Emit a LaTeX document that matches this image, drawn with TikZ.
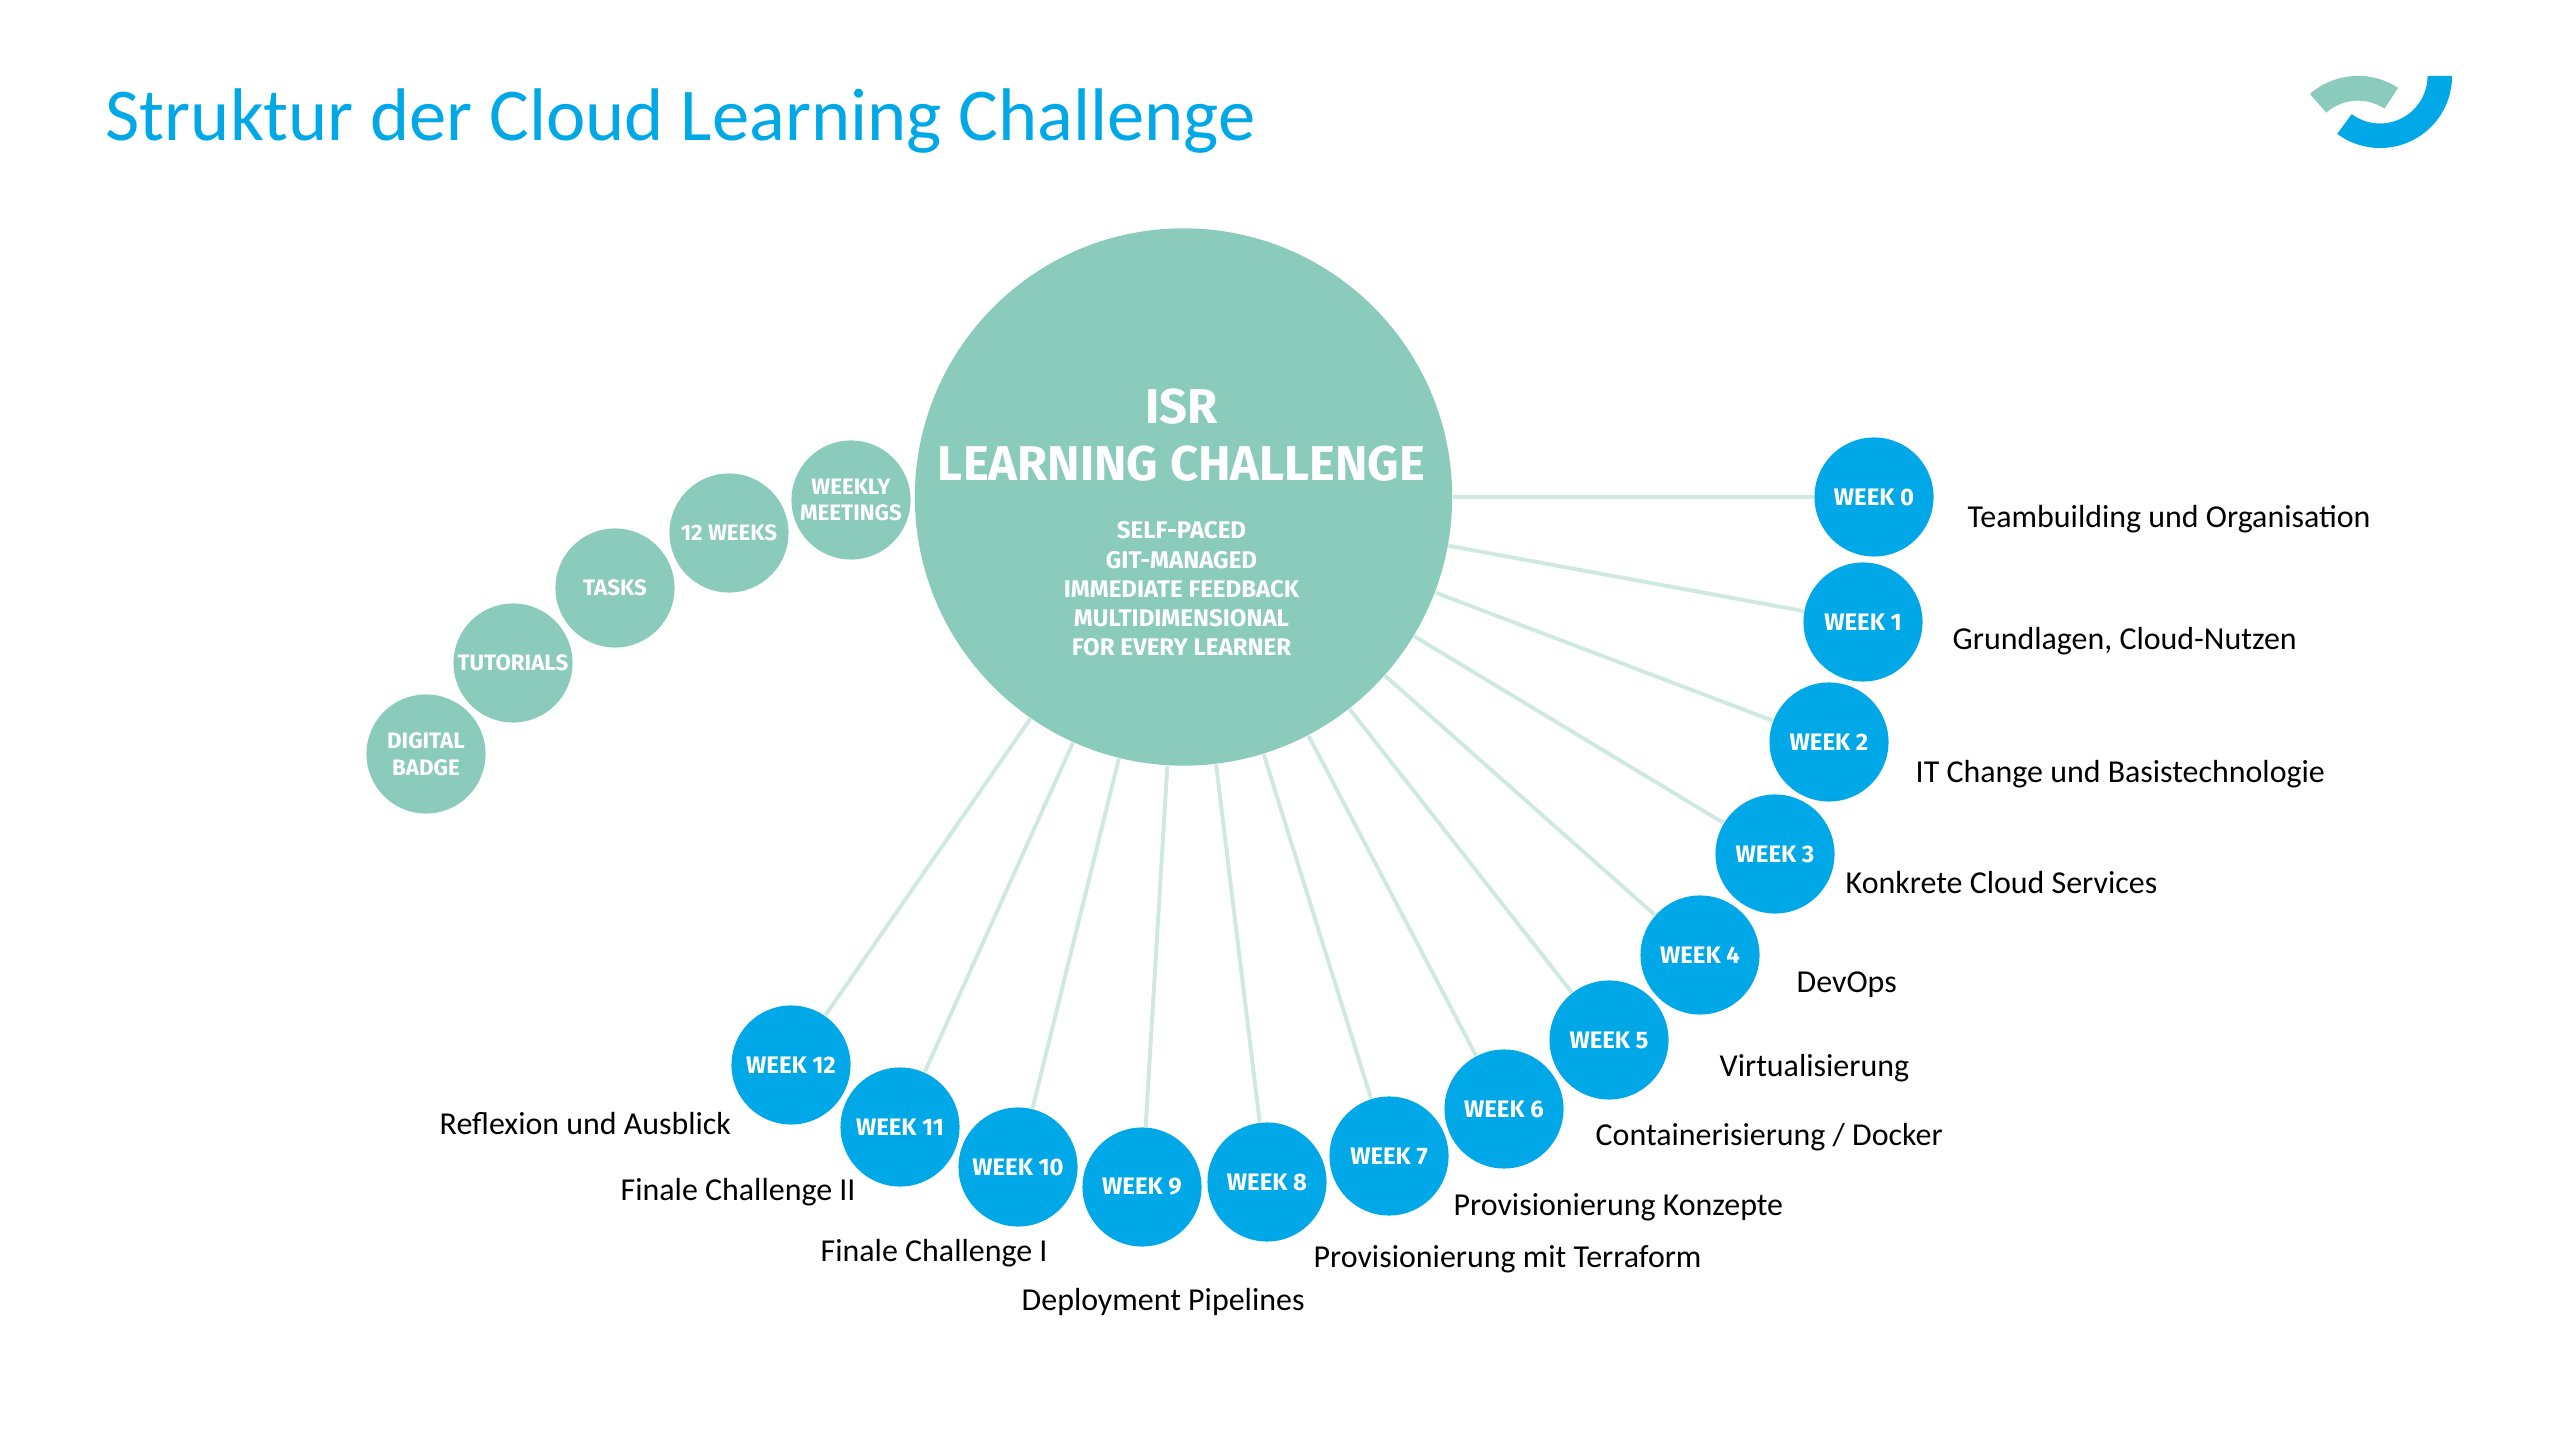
\documentclass[tikz,border=0pt]{standalone}
\usepackage{fontspec}
\setmainfont{Carlito}
\newfontfamily\capsfont{Fira Sans}
\usepackage{tikz}
\definecolor{crBlue}{RGB}{0,168,232}
\definecolor{crTeal}{RGB}{138,203,187}
\definecolor{crLine}{RGB}{207,233,226}

\begin{document}
\begin{tikzpicture}[
    x=0.01cm, y=-0.01cm,
    hub/.style={circle, fill=crTeal, draw=none, minimum size=5.37cm, inner sep=0pt},
    feature/.style={circle, fill=crTeal, minimum size=1.19cm, inner sep=0pt, text=white, align=center, font=\capsfont\bfseries\fontsize{6.35}{7.55}\selectfont},
    week/.style={circle, fill=crBlue, minimum size=1.19cm, inner sep=0pt, text=white, font=\capsfont\bfseries\fontsize{6.8}{7.55}\selectfont},
    topic/.style={font=\fontsize{9.08}{11}\selectfont, text=black, anchor=base west, inner sep=0pt},
    spoke/.style={draw=crLine, line width=1.1pt},
    heading/.style={text=white, align=center, font=\capsfont\bfseries\fontsize{13.9}{16.2}\selectfont},
    subheading/.style={text=white, align=center, font=\capsfont\bfseries\fontsize{6.85}{8.33}\selectfont}
  ]
    \useasboundingbox (0,0) rectangle (2560,1440);
    \fill[white] (0,0) rectangle (2560,1440);

    \node[font=\fontsize{21.2}{25}\selectfont, text=crBlue, anchor=base west, inner sep=0pt] (title) at (105,141) {Struktur der Cloud Learning Challenge};

    \fill[crTeal] (2358,148.7) ++(131.3:0.728cm) arc[start angle=131.3, end angle=56.6, radius=0.728cm]
      -- ++(-123.4:0.248cm) arc[start angle=56.6, end angle=131.3, radius=0.48cm] -- cycle;
    \fill[crBlue] (2380,76) ++(0:0.72cm) arc[start angle=0, end angle=-126.5, radius=0.72cm]
      -- ++(53.5:0.245cm) arc[start angle=-126.5, end angle=0, radius=0.475cm] -- cycle;

    \node[hub] (main) at (1183.5,497) {};

    \node[week] (w0) at (1874,497) {WEEK 0};
    \node[week] (w1) at (1863,622) {WEEK 1};
    \node[week] (w2) at (1829,742) {WEEK 2};
    \node[week] (w3) at (1775,854) {WEEK 3};
    \node[week] (w4) at (1700,955) {WEEK 4};
    \node[week] (w5) at (1609,1040) {WEEK 5};
    \node[week] (w6) at (1504,1109) {WEEK 6};
    \node[week] (w7) at (1389,1156) {WEEK 7};
    \node[week] (w8) at (1267,1182) {WEEK 8};
    \node[week] (w9) at (1142,1187) {WEEK 9};
    \node[week] (w10) at (1018,1167) {WEEK 10};
    \node[week] (w11) at (900,1127) {WEEK 11};
    \node[week] (w12) at (791,1065) {WEEK 12};

    \foreach \n in {0,...,12}
      \draw[spoke] (main) -- (w\n);

    \node[feature] (f0) at (851,500) {WEEKLY\\MEETINGS};
    \node[feature] (f1) at (729,533) {12 WEEKS};
    \node[feature] (f2) at (615,588) {TASKS};
    \node[feature] (f3) at (513,663) {TUTORIALS};
    \node[feature] (f4) at (426,754) {DIGITAL\\BADGE};

    \node[heading] (head) at (1181.5,435) {ISR\\LEARNING CHALLENGE};
    \node[subheading] (sub) at (1181.5,589) {SELF-PACED\\GIT-MANAGED\\IMMEDIATE FEEDBACK\\MULTIDIMENSIONAL\\FOR EVERY LEARNER};

    \node[topic] (t0) at (1967,528) {Teambuilding und Organisation};
    \node[topic] (t1) at (1952,650) {Grundlagen, Cloud-Nutzen};
    \node[topic] (t2) at (1915,783) {IT Change und Basistechnologie};
    \node[topic] (t3) at (1845,893) {Konkrete Cloud Services};
    \node[topic] (t4) at (1796,992) {DevOps};
    \node[topic] (t5) at (1719,1076) {Virtualisierung};
    \node[topic] (t6) at (1595,1145) {Containerisierung / Docker};
    \node[topic] (t7) at (1453,1215) {Provisionierung Konzepte};
    \node[topic] (t8) at (1313,1267) {Provisionierung mit Terraform};
    \node[topic] (t9) at (1021,1310) {Deployment Pipelines};
    \node[topic] (t10) at (820,1261) {Finale Challenge I};
    \node[topic] (t11) at (620,1200) {Finale Challenge II};
    \node[topic] (t12) at (439,1134) {Reflexion und Ausblick};
  \end{tikzpicture}
\end{document}
